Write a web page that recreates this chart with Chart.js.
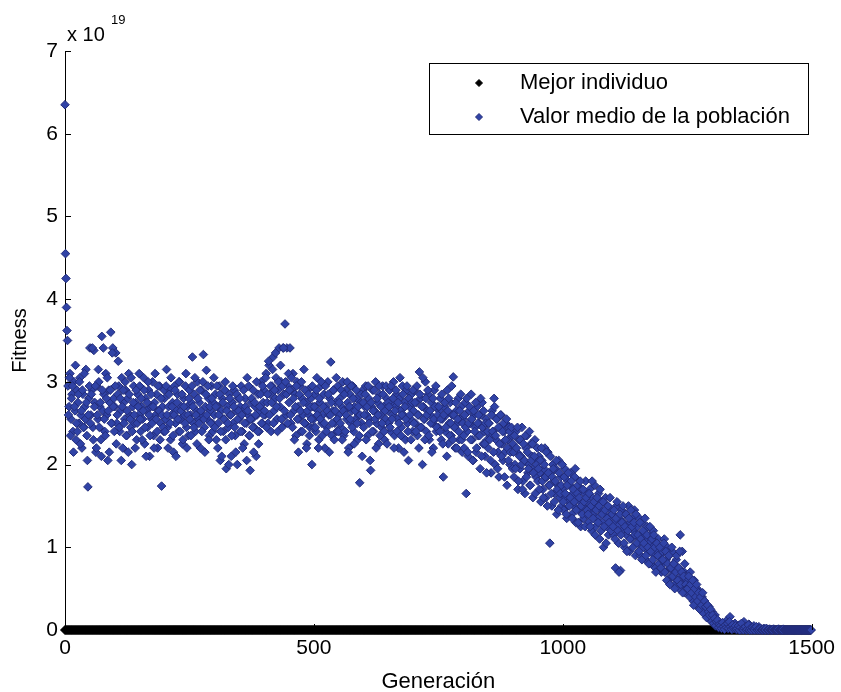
<!DOCTYPE html>
<html>
<head>
<meta charset="utf-8">
<title>Fitness por generación</title>
<script src="https://cdn.jsdelivr.net/npm/chart.js@4.4.1/dist/chart.umd.min.js"></script>
<style>
  html, body { margin: 0; padding: 0; background: #fff; }
  #wrap { width: 841px; height: 692px; }
</style>
</head>
<body>
<div id="wrap"><canvas id="fitnessChart" width="841" height="692"></canvas></div>
<script>
// values are in units of 10^19 (the axis shows "x 10^19")
const xTicks = [0, 500, 1000, 1500];
const yTicks = [0, 1, 2, 3, 4, 5, 6, 7];
const seriesLabels = ["Mejor individuo", "Valor medio de la población"];

// population mean at even generations (0, 2, 4, ... 1498)
const meanFitnessEven = [
  6.35, 4.25, 3.62, 2.95, 2.7, 3.1, 2.55, 2.85, 2.4, 3.0, 2.65, 2.3, 2.9, 2.75, 2.5, 3.05, 2.6, 2.2, 2.85, 2.45, 2.7, 3.15, 2.35, 1.73, 2.8,
  3.41, 2.6, 2.9, 2.45, 3.38, 2.75, 2.15, 2.95, 2.55, 3.0, 2.7, 2.3, 3.55, 2.65, 2.85, 2.4, 3.1, 2.6, 2.05, 2.9, 2.75, 3.6, 2.5, 3.41, 2.8,
  2.7, 3.35, 2.5, 2.85, 2.95, 2.4, 2.65, 3.05, 2.2, 2.75, 2.55, 2.9, 2.35, 2.8, 3.1, 2.6, 2.45, 2.0, 2.7, 2.95, 2.5, 2.75, 2.3, 2.85, 2.6,
  2.95, 2.4, 2.7, 2.55, 3.05, 2.25, 2.8, 2.65, 2.45, 2.9, 2.1, 2.7, 2.55, 3.0, 2.35, 2.75, 2.6, 2.85, 2.2, 2.65, 2.95, 2.5, 1.74, 2.7, 2.4,
  2.8, 2.55, 3.15, 2.45, 2.7, 2.9, 2.3, 2.6, 2.75, 2.15, 2.95, 2.5, 2.65, 2.85, 2.4, 3.0, 2.55, 2.7, 2.25, 2.8, 2.6, 2.95, 2.45, 2.7, 2.35,
  2.9, 2.6, 2.75, 3.3, 2.5, 2.85, 2.4, 2.65, 3.0, 2.55, 2.75, 2.2, 2.9, 2.6, 3.33, 2.45, 2.7, 3.14, 2.55, 2.8, 2.35, 2.65, 2.95, 2.5, 2.75,
  2.6, 2.85, 2.3, 2.7, 2.5, 2.95, 2.05, 2.65, 2.8, 2.4, 2.55, 3.0, 1.95, 2.7, 2.45, 2.85, 2.6, 2.1, 2.75, 2.5, 2.9, 2.35, 2.65, 2.0, 2.8,
  2.55, 2.7, 2.95, 2.4, 2.65, 2.25, 2.8, 2.5, 3.05, 2.6, 2.35, 1.93, 2.75, 2.55, 2.9, 2.45, 2.7, 2.1, 2.6, 2.85, 2.4, 2.65, 3.0, 2.5, 2.75,
  2.9, 2.6, 3.1, 2.75, 2.5, 3.2, 2.85, 2.4, 2.95, 3.3, 2.65, 2.8, 3.05, 2.55, 2.9, 3.41, 2.7, 3.0, 2.45, 3.41, 2.85, 3.7, 2.6, 3.41, 2.95,
  2.75, 3.41, 2.5, 2.9, 3.1, 2.65, 2.85, 2.35, 3.0, 2.7, 2.55, 2.95, 2.4, 2.8, 2.6, 3.15, 2.5, 2.75, 2.25, 2.9, 2.6, 2.45, 2.8, 2.0, 2.7,
  2.55, 2.85, 2.4, 3.05, 2.65, 2.3, 2.75, 2.95, 2.5, 2.6, 2.85, 2.2, 2.7, 2.45, 3.0, 2.6, 2.8, 3.24, 2.35, 2.65, 2.9, 2.5, 2.75, 2.4, 2.95,
  2.6, 2.8, 2.45, 2.7, 3.0, 2.35, 2.65, 2.9, 2.55, 2.75, 2.2, 2.85, 2.5, 2.65, 2.95, 2.4, 2.7, 2.55, 2.8, 2.3, 2.6, 1.78, 2.75, 2.5, 2.9,
  2.45, 2.7, 2.95, 2.6, 2.35, 2.8, 2.55, 1.93, 2.7, 2.9, 2.4, 2.65, 3.0, 2.5, 2.75, 2.25, 2.85, 2.6, 2.45, 2.95, 2.7, 2.3, 2.55, 2.8, 2.65,
  2.5, 2.9, 2.4, 2.75, 2.6, 3.0, 2.35, 2.7, 2.85, 2.55, 2.2, 2.8, 2.65, 2.45, 2.95, 2.6, 2.75, 2.3, 2.9, 2.5, 2.05, 2.7, 2.55, 2.85, 2.4,
  2.65, 2.9, 2.5, 2.75, 2.35, 2.6, 3.12, 2.8, 2.45, 2.0, 2.7, 2.55, 3.0, 2.4, 2.65, 2.85, 2.3, 2.6, 2.75, 2.5, 2.2, 2.9, 2.55, 2.4, 2.7,
  2.45, 2.65, 2.8, 2.3, 2.55, 1.85, 2.7, 2.4, 2.6, 2.9, 2.25, 2.5, 2.75, 2.35, 2.6, 3.06, 2.45, 2.2, 2.65, 2.5, 2.8, 2.3, 2.55, 2.7, 2.15,
  2.55, 2.2, 2.75, 1.65, 2.4, 2.1, 2.65, 2.5, 2.85, 2.3, 2.05, 2.6, 2.45, 2.15, 2.7, 2.35, 2.5, 1.95, 2.6, 2.75, 2.25, 2.4, 2.1, 2.55, 2.3,
  2.2, 2.5, 2.35, 1.9, 2.65, 2.4, 2.8, 2.0, 2.3, 2.55, 2.15, 1.85, 2.45, 2.6, 2.25, 2.05, 2.4, 2.15, 2.5, 1.75, 2.3, 2.45, 2.0, 2.2, 2.35,
  2.25, 1.85, 2.0, 2.4, 2.15, 1.7, 2.3, 1.95, 2.1, 2.45, 1.8, 2.05, 1.65, 2.2, 2.35, 1.9, 2.0, 1.75, 2.25, 2.1, 1.6, 1.95, 2.3, 1.85, 2.05,
  1.8, 2.1, 1.9, 1.55, 2.05, 1.7, 1.95, 2.2, 1.6, 1.85, 2.15, 1.75, 1.05, 1.9, 1.5, 2.0, 1.8, 1.65, 1.95, 1.4, 1.75, 2.05, 1.6, 1.85, 1.5,
  1.7, 1.45, 1.95, 1.6, 1.35, 1.8, 1.55, 1.75, 1.9, 1.4, 1.65, 1.5, 1.85, 1.3, 1.6, 1.75, 1.45, 1.55, 1.25, 1.7, 1.5, 1.35, 1.65, 1.8, 1.4,
  1.55, 1.3, 1.7, 1.45, 1.2, 1.6, 1.4, 1.75, 1.25, 1.5, 1.35, 1.65, 1.1, 1.45, 1.55, 1.3, 1.0, 1.4, 1.6, 1.25, 1.5, 1.15, 1.35, 1.45, 1.2,
  1.4, 1.15, 1.3, 0.75, 1.5, 1.25, 1.05, 1.35, 0.72, 1.45, 1.2, 1.3, 1.0, 1.4, 1.15, 1.25, 1.5, 0.95, 1.3, 1.1, 1.35, 1.2, 1.45, 0.9, 1.15,
  1.25, 1.05, 1.35, 0.9, 1.15, 1.3, 1.0, 1.2, 0.85, 1.1, 1.25, 0.95, 1.05, 1.15, 0.8, 1.0, 1.2, 0.9, 0.75, 1.05, 0.95, 1.1, 0.8, 0.9, 0.7,
  0.95, 0.8, 1.1, 0.7, 0.85, 1.0, 0.6, 0.9, 0.75, 0.65, 0.95, 0.8, 0.55, 0.7, 0.85, 0.6, 0.75, 0.5, 1.15, 0.65, 0.95, 0.55, 0.7, 0.45, 0.6,
  0.6, 0.45, 0.55, 0.7, 0.4, 0.5, 0.35, 0.6, 0.45, 0.3, 0.5, 0.4, 0.35, 0.45, 0.25, 0.4, 0.3, 0.35, 0.2, 0.3, 0.25, 0.15, 0.28, 0.2, 0.12,
  0.22, 0.15, 0.1, 0.18, 0.08, 0.12, 0.05, 0.1, 0.04, 0.07, 0.03, 0.06, 0.02, 0.05, 0.03, 0.12, 0.02, 0.04, 0.16, 0.03, 0.01, 0.05, 0.02, 0.08, 0.01,
  0.03, 0.01, 0.06, 0.02, 0, 0.04, 0.01, 0.1, 0.02, 0, 0.03, 0.01, 0.07, 0, 0.02, 0.01, 0, 0.05, 0.01, 0, 0.02, 0, 0.04, 0.01, 0,
  0.01, 0, 0.02, 0, 0, 0.01, 0, 0, 0.01, 0, 0, 0, 0.01, 0, 0, 0, 0, 0.01, 0, 0, 0, 0, 0, 0, 0,
  0, 0, 0, 0, 0, 0, 0, 0, 0, 0, 0, 0, 0, 0, 0, 0, 0, 0, 0, 0, 0, 0, 0, 0, 0
];

// population mean at odd generations (1, 3, 5, ... 1499)
const meanFitnessOdd = [
  4.55, 3.9, 3.5, 2.6, 3.05, 2.35, 2.8, 2.95, 2.15, 2.7, 3.2, 2.5, 2.4, 2.85, 3.0, 2.25, 2.65, 2.9, 2.45, 3.1, 2.55, 2.75, 2.05, 2.6, 2.95,
  2.5, 2.85, 3.41, 2.3, 2.7, 2.95, 2.2, 2.6, 3.15, 2.45, 2.75, 2.1, 2.9, 3.41, 2.55, 2.35, 2.8, 3.05, 2.65, 2.15, 2.9, 2.5, 3.35, 2.7, 2.4,
  2.95, 2.25, 2.6, 3.25, 2.45, 2.8, 2.05, 2.7, 2.9, 2.5, 3.0, 2.35, 2.65, 2.15, 2.85, 2.55, 3.05, 2.4, 2.75, 2.6, 2.2, 2.9, 2.5, 2.7, 3.1,
  2.55, 2.8, 2.3, 2.65, 2.9, 2.45, 2.1, 2.75, 3.0, 2.6, 2.35, 2.85, 2.5, 2.7, 2.2, 3.1, 2.55, 2.4, 2.95, 2.65, 2.3, 2.8, 2.6, 2.45, 2.9,
  2.4, 2.95, 2.6, 2.2, 2.85, 2.5, 3.05, 2.7, 2.35, 2.6, 2.9, 2.1, 2.75, 2.55, 3.0, 2.4, 2.65, 2.85, 2.3, 2.7, 2.5, 3.1, 2.2, 2.6, 2.8,
  2.55, 2.35, 2.95, 2.7, 2.45, 3.05, 2.6, 2.25, 2.8, 2.5, 2.9, 2.65, 2.4, 3.0, 2.55, 2.15, 2.85, 2.6, 2.95, 2.3, 2.7, 2.5, 2.8, 2.4, 3.05,
  2.45, 2.7, 2.95, 2.2, 2.6, 2.85, 2.4, 2.1, 2.75, 2.55, 2.9, 2.3, 2.65, 2.5, 2.0, 2.8, 2.6, 2.35, 2.95, 2.7, 2.45, 2.15, 2.85, 2.55, 2.65,
  2.8, 2.4, 2.6, 2.2, 2.9, 2.5, 2.7, 2.05, 2.65, 2.95, 2.35, 2.55, 2.8, 2.45, 2.15, 2.75, 2.6, 3.0, 2.4, 2.25, 2.7, 2.85, 2.5, 2.95, 2.6,
  2.65, 3.05, 2.45, 2.85, 3.25, 2.6, 2.95, 2.75, 3.15, 2.5, 2.9, 3.35, 2.7, 2.4, 3.0, 2.8, 3.2, 2.55, 2.95, 3.41, 2.65, 3.0, 2.85, 2.5, 3.1,
  2.9, 2.6, 3.05, 2.45, 2.8, 2.3, 2.7, 2.95, 2.55, 2.15, 2.85, 2.65, 3.0, 2.4, 2.75, 2.5, 2.9, 2.2, 2.65, 2.85, 2.35, 2.7, 2.55, 2.95, 2.45,
  2.7, 2.45, 2.9, 2.6, 2.2, 2.8, 2.55, 3.0, 2.35, 2.7, 2.5, 2.95, 2.4, 2.65, 2.85, 2.15, 2.6, 2.75, 2.5, 2.9, 2.3, 2.65, 3.05, 2.55, 2.4,
  2.75, 2.5, 2.9, 2.3, 2.65, 2.85, 2.4, 2.6, 3.0, 2.15, 2.7, 2.55, 2.95, 2.45, 2.8, 2.25, 2.65, 2.9, 2.5, 2.7, 2.35, 2.6, 2.85, 2.1, 2.75,
  2.6, 2.85, 2.3, 2.7, 2.95, 2.5, 2.05, 2.75, 2.4, 2.65, 2.9, 2.55, 2.2, 2.8, 2.6, 2.95, 2.35, 2.7, 2.5, 2.85, 2.4, 2.65, 2.95, 2.25, 2.75,
  2.7, 2.45, 2.95, 2.55, 2.8, 2.2, 2.65, 2.9, 2.4, 2.75, 2.5, 3.05, 2.35, 2.6, 2.85, 2.15, 2.7, 2.55, 2.95, 2.4, 2.8, 2.6, 2.3, 2.75, 2.9,
  2.5, 2.75, 2.4, 2.95, 2.6, 2.2, 2.85, 2.45, 2.7, 3.05, 2.55, 2.3, 2.8, 2.6, 2.9, 2.35, 2.65, 2.5, 2.15, 2.8, 2.55, 2.7, 2.95, 2.45, 2.6,
  2.7, 2.4, 2.55, 2.85, 2.25, 2.6, 2.75, 2.45, 2.1, 2.65, 2.8, 2.35, 2.5, 2.95, 2.3, 2.6, 2.45, 2.75, 2.2, 2.55, 2.4, 2.65, 2.85, 2.3, 2.5,
  2.35, 2.6, 2.45, 2.8, 2.15, 2.5, 2.7, 2.3, 2.55, 2.05, 2.65, 2.4, 2.75, 2.2, 2.5, 2.6, 2.35, 2.8, 2.1, 2.45, 2.65, 2.25, 2.5, 1.9, 2.4,
  2.5, 2.3, 2.05, 2.6, 2.4, 2.15, 2.7, 2.35, 2.55, 1.95, 2.45, 2.25, 2.6, 2.1, 2.4, 2.5, 1.85, 2.3, 2.55, 2.2, 2.05, 2.4, 2.15, 2.45, 1.95,
  2.15, 2.35, 1.95, 2.2, 2.45, 1.8, 2.1, 2.3, 2.0, 1.7, 2.25, 2.05, 2.35, 1.85, 2.15, 1.95, 2.4, 1.75, 2.05, 2.25, 1.9, 2.1, 1.65, 2.0, 2.2,
  1.95, 1.7, 2.05, 2.2, 1.8, 1.6, 2.0, 1.85, 2.15, 1.5, 1.9, 1.75, 2.1, 1.65, 1.85, 1.95, 1.55, 1.8, 2.05, 1.7, 1.45, 1.9, 1.65, 1.75, 2.0,
  1.55, 1.85, 1.65, 1.4, 1.75, 1.9, 1.5, 1.6, 1.8, 1.35, 1.7, 1.55, 1.95, 1.45, 1.65, 1.3, 1.6, 1.8, 1.5, 1.4, 1.7, 1.55, 1.25, 1.6, 1.45,
  1.4, 1.65, 1.25, 1.5, 1.8, 1.35, 1.55, 1.15, 1.45, 1.6, 1.3, 1.5, 1.7, 1.2, 1.4, 1.55, 1.25, 1.45, 1.05, 1.35, 1.5, 1.3, 1.6, 1.2, 1.4,
  1.25, 1.45, 1.1, 1.35, 1.55, 1.2, 0.7, 1.4, 1.15, 1.3, 1.5, 1.05, 1.25, 1.4, 0.95, 1.2, 1.35, 1.1, 1.45, 1.25, 1.0, 1.3, 1.15, 1.4, 1.05,
  1.15, 0.95, 1.3, 1.1, 0.85, 1.2, 1.05, 1.35, 0.9, 1.15, 1.0, 0.8, 1.25, 0.95, 1.1, 0.85, 1.15, 1.0, 0.7, 1.05, 0.9, 0.8, 1.0, 0.75, 0.85,
  0.85, 1.05, 0.7, 0.95, 0.6, 0.8, 0.9, 0.55, 0.75, 1.0, 0.65, 0.8, 0.5, 0.7, 0.9, 0.6, 0.75, 0.95, 0.55, 0.7, 0.45, 0.65, 0.8, 0.55, 0.5,
  0.5, 0.65, 0.4, 0.55, 0.45, 0.6, 0.3, 0.5, 0.4, 0.55, 0.35, 0.45, 0.25, 0.4, 0.3, 0.45, 0.2, 0.35, 0.28, 0.15, 0.3, 0.22, 0.18, 0.25, 0.1,
  0.18, 0.08, 0.14, 0.05, 0.1, 0.12, 0.03, 0.07, 0.05, 0.02, 0.09, 0.04, 0.01, 0.06, 0.03, 0.08, 0.02, 0.1, 0.04, 0.01, 0.06, 0.02, 0.03, 0.05, 0.01,
  0.02, 0.05, 0, 0.03, 0.08, 0.01, 0, 0.02, 0.04, 0, 0.01, 0.06, 0, 0.02, 0, 0.03, 0.01, 0, 0.02, 0.04, 0, 0.01, 0, 0.02, 0,
  0, 0.01, 0, 0, 0.02, 0, 0, 0.01, 0, 0, 0, 0.01, 0, 0, 0, 0, 0.01, 0, 0, 0, 0, 0.01, 0, 0, 0,
  0, 0, 0, 0, 0, 0, 0, 0, 0, 0, 0, 0, 0, 0, 0, 0, 0, 0, 0, 0, 0, 0, 0, 0, 0
];

const evenGenerations = meanFitnessEven.map((_, i) => 2 * i);
const oddGenerations = meanFitnessOdd.map((_, i) => 2 * i + 1);
// the best individual stays on 0 for every generation
const bestFitness = evenGenerations.map(() => 0);

const FONT = "'Liberation Sans', Arial, sans-serif";
const BLUE = "#3043a6";
const BLUE_EDGE = "#222c7a";

const meanPoints = evenGenerations.map((g, i) => ({ x: g, y: meanFitnessEven[i] }))
  .concat(oddGenerations.map((g, i) => ({ x: g, y: meanFitnessOdd[i] })));
const bestPoints = evenGenerations.map((g, i) => ({ x: g, y: bestFitness[i] }));

// MATLAB-like extras: inward ticks, exponent label and the boxed legend
const matlabFrame = {
  id: "matlabFrame",
  afterDraw(chart) {
    const { ctx, chartArea: a, scales: { x, y } } = chart;
    ctx.save();
    ctx.strokeStyle = "#000";
    ctx.lineWidth = 1;
    ctx.beginPath();
    yTicks.forEach((v) => {
      const py = Math.round(y.getPixelForValue(v)) + 0.5;
      ctx.moveTo(a.left, py);
      ctx.lineTo(a.left + 6, py);
    });
    xTicks.forEach((v) => {
      const px = Math.round(x.getPixelForValue(v)) + 0.5;
      ctx.moveTo(px, a.bottom);
      ctx.lineTo(px, a.bottom - 6);
    });
    ctx.stroke();

    ctx.fillStyle = "#000";
    ctx.textBaseline = "alphabetic";
    ctx.textAlign = "left";
    ctx.font = `20px ${FONT}`;
    ctx.fillText("x 10", 67, 41);
    ctx.font = `13px ${FONT}`;
    ctx.fillText("19", 111, 24);

    // legend box
    const box = { left: 429, top: 63, width: 379, height: 71 };
    ctx.fillStyle = "#fff";
    ctx.fillRect(box.left, box.top, box.width, box.height);
    ctx.strokeRect(box.left + 0.5, box.top + 0.5, box.width, box.height);
    const rowY = [83, 117];
    chart.data.datasets.forEach((ds, i) => {
      ctx.fillStyle = ds.backgroundColor;
      ctx.strokeStyle = ds.borderColor;
      ctx.lineWidth = 1;
      Chart.helpers.drawPoint(ctx, { pointStyle: "rectRot", radius: 3.5, borderWidth: 1, rotation: 0 }, 479, rowY[i]);
      ctx.fillStyle = "#000";
      ctx.font = `22px ${FONT}`;
      ctx.textBaseline = "middle";
      ctx.fillText(ds.label, 520, rowY[i]);
    });
    ctx.restore();
  }
};

new Chart(document.getElementById("fitnessChart"), {
  type: "scatter",
  data: {
    datasets: [
      {
        label: seriesLabels[0],
        data: bestPoints,
        backgroundColor: "#000",
        borderColor: "#000",
        pointStyle: "rectRot",
        pointRadius: 4.5,
        pointBorderWidth: 1,
        clip: false,
        order: 2
      },
      {
        label: seriesLabels[1],
        data: meanPoints,
        backgroundColor: BLUE,
        borderColor: BLUE_EDGE,
        pointStyle: "rectRot",
        pointRadius: 4.3,
        pointBorderWidth: 1,
        clip: false,
        order: 1
      }
    ]
  },
  options: {
    responsive: false,
    animation: false,
    layout: { padding: { left: 0, top: 51, right: 23, bottom: 0 } },
    plugins: {
      legend: { display: false },
      tooltip: { enabled: false }
    },
    scales: {
      x: {
        type: "linear",
        min: 0,
        max: 1500,
        afterFit: (scale) => { scale.height = 62; },
        afterBuildTicks: (scale) => { scale.ticks = xTicks.map((v) => ({ value: v })); },
        grid: { display: false, drawTicks: false },
        border: { display: true, color: "#000", width: 1 },
        ticks: { color: "#000", font: { family: FONT, size: 21 }, padding: 6, maxRotation: 0, callback: (v) => String(v) },
        title: { display: true, text: "Generación", color: "#000", font: { family: FONT, size: 22 }, padding: { top: 0, bottom: -3 } }
      },
      y: {
        min: 0,
        max: 7,
        afterFit: (scale) => { scale.width = 65; },
        afterBuildTicks: (scale) => { scale.ticks = yTicks.map((v) => ({ value: v })); },
        grid: { display: false, drawTicks: false },
        border: { display: true, color: "#000", width: 1 },
        ticks: { color: "#000", font: { family: FONT, size: 21 }, padding: 7, callback: (v) => String(v) },
        title: { display: true, text: "Fitness", color: "#000", font: { family: FONT, size: 20 }, padding: { top: 8, bottom: 0 } }
      }
    }
  },
  plugins: [matlabFrame]
});
</script>
</body>
</html>
